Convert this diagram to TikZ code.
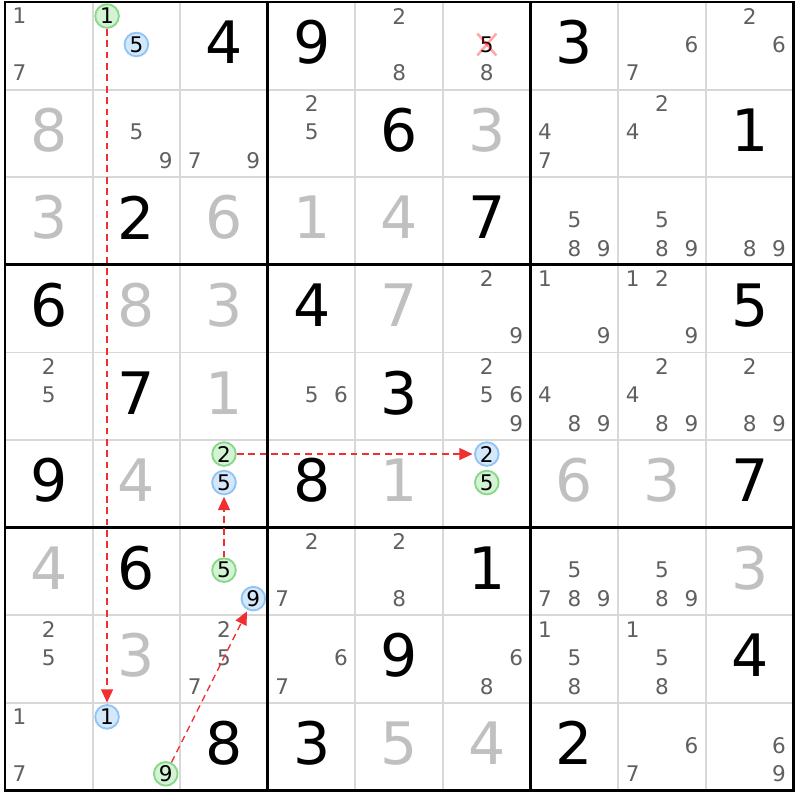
\documentclass[tikz,border=0pt]{standalone}
\usepackage{fontspec}
\setmainfont{DejaVu Sans}
\usetikzlibrary{arrows.meta}
\definecolor{candgray}{HTML}{606060}
\definecolor{solvedgray}{HTML}{C0C0C0}
\definecolor{gridgray}{HTML}{D8D8D8}
\definecolor{linkred}{HTML}{F03030}
\definecolor{onfill}{HTML}{D4F2D4}
\definecolor{ondraw}{HTML}{88D888}
\definecolor{offfill}{HTML}{D4E8FB}
\definecolor{offdraw}{HTML}{90C4F4}

\begin{document}
\begin{tikzpicture}[x=1cm,y=-1cm,
  given/.style={font=\fontsize{19}{19}\selectfont,inner sep=0pt},
  solved/.style={given,text=solvedgray},
  cand/.style={font=\fontsize{7}{7}\selectfont,text=candgray,inner sep=0pt},
  oncand/.style={cand,text=black,circle,draw=ondraw,fill=onfill,minimum size=0.27cm,line width=0.6pt},
  offcand/.style={cand,text=black,circle,draw=offdraw,fill=offfill,minimum size=0.27cm,line width=0.6pt},
  link/.style={draw=linkred,line width=0.45pt,dash pattern=on 2.2pt off 1.5pt,shorten >=0.5pt,-{Triangle[length=4.3pt,width=3.9pt]}},
  strike/.style={draw=red,opacity=0.35,line width=0.8pt,shorten <=-1pt,shorten >=-1pt}]
\useasboundingbox[fill=white] (-0.057,-0.023) rectangle (9.075,9.109);

\foreach \i in {1,2,4,5,7,8} {
  \draw[gridgray,line width=0.6pt] (\i,0) -- (\i,9);
  \draw[gridgray,line width=0.6pt] (0,\i) -- (9,\i);
}
\foreach \i in {3,6} {
  \draw[line width=0.9pt] (\i,0) -- (\i,9);
  \draw[line width=0.9pt] (0,\i) -- (9,\i);
}
\draw[line width=0.9pt] (0,0) rectangle (9,9);

% givens and solved cells
\foreach \r/\c/\d in {1/3/4,1/4/9,1/7/3,2/5/6,2/9/1,3/2/2,3/6/7,4/1/6,4/4/4,4/9/5,
    5/2/7,5/5/3,6/1/9,6/4/8,6/9/7,7/2/6,7/6/1,8/5/9,8/9/4,9/3/8,9/4/3,9/7/2}
  \node[given] (g\r\c) at (\c-0.5,\r-0.54) {\d};
\foreach \r/\c/\d in {2/1/8,2/6/3,3/1/3,3/3/6,3/4/1,3/5/4,4/2/8,4/3/3,4/5/7,5/3/1,
    6/2/4,6/5/1,6/7/6,6/8/3,7/1/4,7/9/3,8/2/3,9/5/5,9/6/4}
  \node[solved] (g\r\c) at (\c-0.5,\r-0.54) {\d};

% pencil marks
\foreach \r/\c/\ds in {1/1/{1,7},1/5/{2,8},1/6/{8},1/8/{6,7},1/9/{2,6},
    2/2/{5,9},2/3/{7,9},2/4/{2,5},2/7/{4,7},2/8/{2,4},
    3/7/{5,8,9},3/8/{5,8,9},3/9/{8,9},
    4/6/{2,9},4/7/{1,9},4/8/{1,2,9},
    5/1/{2,5},5/4/{5,6},5/6/{2,5,6,9},5/7/{4,8,9},5/8/{2,4,8,9},5/9/{2,8,9},
    7/4/{2,7},7/5/{2,8},7/7/{5,7,8,9},7/8/{5,8,9},
    8/1/{2,5},8/3/{2,5,7},8/4/{6,7},8/6/{6,8},8/7/{1,5,8},8/8/{1,5,8},
    9/1/{1,7},9/8/{6,7},9/9/{6,9}} {
  \foreach \d in \ds {
    \pgfmathsetmacro\sx{mod(\d-1,3)}
    \pgfmathsetmacro\sy{div(\d-1,3)}
    \node[cand] (r\r c\c d\d) at (\c-1+0.165+0.335*\sx,\r-1+0.16+0.325*\sy) {\d};
  }
}

\node[cand,text=black] (r1c6d5) at (5.5,0.485) {5};
\draw[strike] (r1c6d5.north west) -- (r1c6d5.south east);
\draw[strike] (r1c6d5.south west) -- (r1c6d5.north east);

\node[oncand] (r1c2d1) at (1.165,0.16) {1};
\node[offcand] (r1c2d5) at (1.5,0.485) {5};
\node[oncand] (r6c3d2) at (2.5,5.16) {2};
\node[offcand] (r6c3d5) at (2.5,5.485) {5};
\node[offcand] (r6c6d2) at (5.5,5.16) {2};
\node[oncand] (r6c6d5) at (5.5,5.485) {5};
\node[oncand] (r7c3d5) at (2.5,6.485) {5};
\node[offcand] (r7c3d9) at (2.835,6.81) {9};
\node[offcand] (r9c2d1) at (1.165,8.16) {1};
\node[oncand] (r9c2d9) at (1.835,8.81) {9};

\draw[link] (r1c2d1) -- (r9c2d1);
\draw[link] (r7c3d5) -- (r6c3d5);
\draw[link] (r6c3d2) -- (r6c6d2);
\draw[link] (r9c2d9) -- (r7c3d9);
\end{tikzpicture}
\end{document}
